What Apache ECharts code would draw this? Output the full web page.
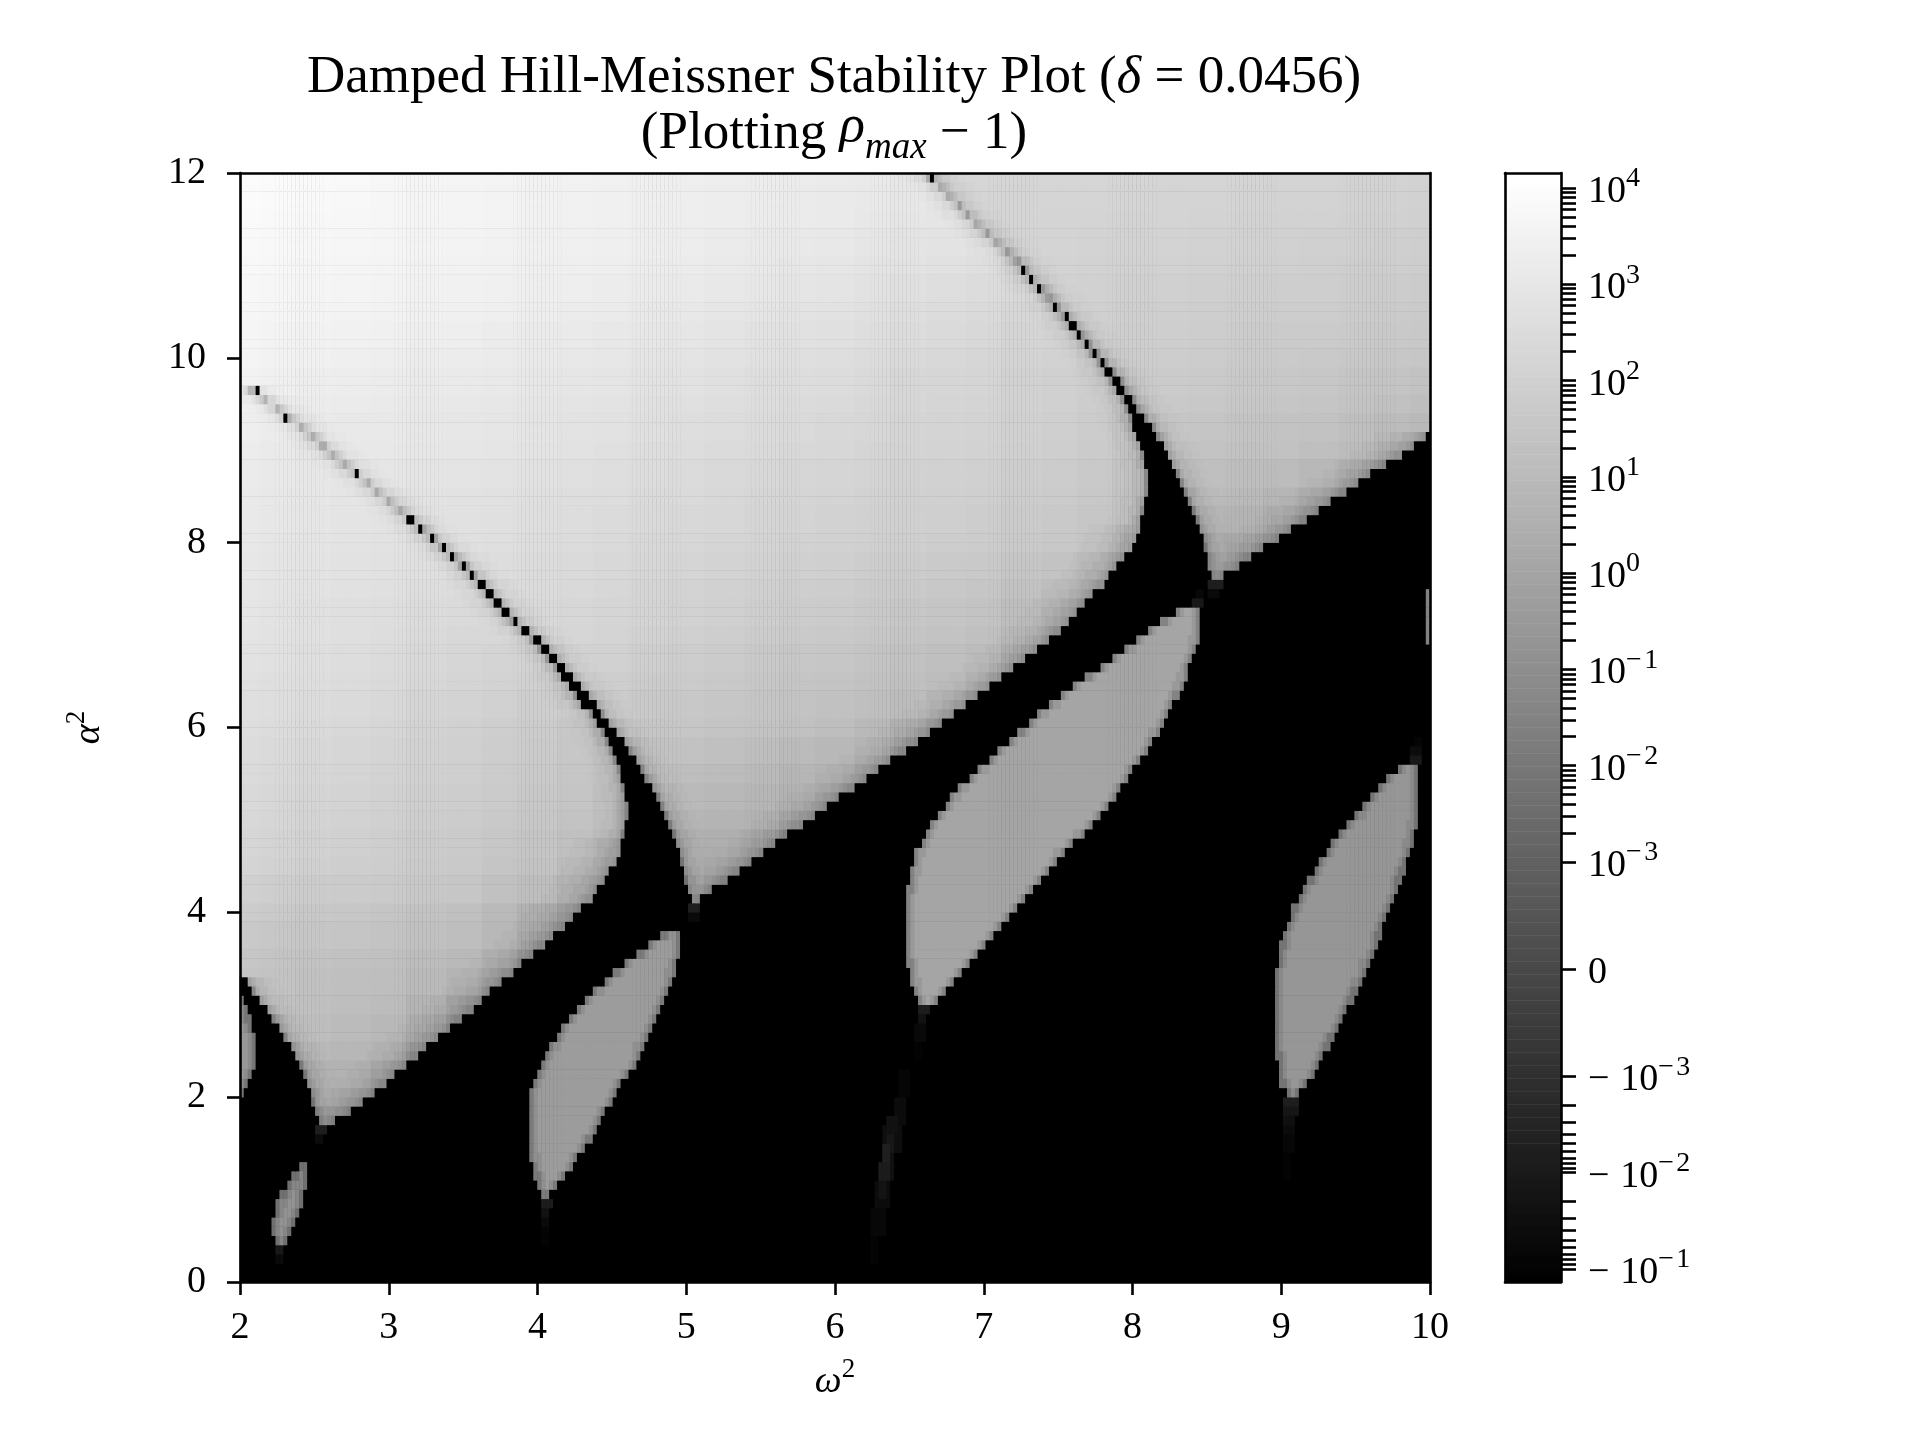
<!DOCTYPE html>
<html><head><meta charset="utf-8">
<style>html,body{margin:0;padding:0;background:#fff}#c{width:1920px;height:1440px}</style>
<script src="https://cdn.jsdelivr.net/npm/echarts@6/dist/echarts.min.js"></script>
</head><body><div id="c"></div>
<script>
// Region outlines, row by row: [alpha^2, left omega^2, right omega^2]
const regionA=[[9.65,2,2.08],[9.55,2,2.17],[9.45,2,2.26],[9.35,2,2.34],[9.25,2,2.42],[9.15,2,2.49],[9.05,2,2.56],[8.95,2,2.63],[8.85,2,2.71],[8.75,2,2.78],[8.65,2,2.86],[8.55,2,2.93],[8.45,2,3.01],[8.35,2,3.08],[8.25,2,3.142],[8.15,2,3.212],[8.05,2,3.282],[7.95,2,3.352],[7.85,2,3.42],[7.75,2,3.49],[7.65,2,3.55],[7.55,2,3.61],[7.45,2,3.663],[7.35,2,3.718],[7.25,2,3.768],[7.15,2,3.828],[7.05,2,3.905],[6.95,2,3.97],[6.85,2,4.025],[6.75,2,4.075],[6.65,2,4.125],[6.55,2,4.17],[6.45,2,4.215],[6.35,2,4.26],[6.25,2,4.305],[6.15,2,4.37],[6.05,2,4.41],[5.95,2,4.445],[5.85,2,4.47],[5.75,2,4.50],[5.65,2,4.53],[5.55,2,4.555],[5.45,2,4.57],[5.35,2,4.58],[5.25,2,4.595],[5.15,2,4.60],[5.05,2,4.60],[4.95,2,4.595],[4.85,2,4.585],[4.75,2,4.57],[4.65,2,4.55],[4.55,2,4.525],[4.45,2,4.49],[4.35,2,4.45],[4.25,2,4.41],[4.15,2,4.36],[4.05,2,4.30],[3.95,2,4.24],[3.85,2,4.18],[3.75,2,4.11],[3.65,2,4.04],[3.55,2,3.97],[3.45,2,3.90],[3.35,2,3.83],[3.25,2.05,3.76],[3.15,2.085,3.69],[3.05,2.125,3.63],[2.95,2.175,3.56],[2.85,2.225,3.48],[2.75,2.26,3.41],[2.65,2.30,3.33],[2.55,2.335,3.26],[2.45,2.37,3.19],[2.35,2.40,3.12],[2.25,2.43,3.05],[2.15,2.45,2.975],[2.05,2.47,2.90],[1.95,2.485,2.82],[1.85,2.50,2.74],[1.75,2.525,2.65]];
const regionB=[[11.95,2,6.64],[11.85,2,6.71],[11.75,2,6.77],[11.65,2,6.83],[11.55,2,6.89],[11.45,2,6.955],[11.35,2,7.02],[11.25,2,7.09],[11.15,2,7.16],[11.05,2,7.215],[10.95,2,7.26],[10.85,2,7.31],[10.75,2,7.373],[10.65,2,7.428],[10.55,2,7.478],[10.45,2,7.536],[10.35,2,7.586],[10.25,2,7.635],[10.15,2,7.685],[10.05,2,7.733],[9.95,2,7.78],[9.85,2,7.825],[9.75,2.0,7.86],[9.65,2.08,7.90],[9.55,2.17,7.945],[9.45,2.26,7.97],[9.35,2.34,7.99],[9.25,2.42,8.01],[9.15,2.49,8.035],[9.05,2.56,8.06],[8.95,2.63,8.075],[8.85,2.71,8.09],[8.75,2.78,8.10],[8.65,2.86,8.10],[8.55,2.93,8.10],[8.45,3.01,8.09],[8.35,3.08,8.08],[8.25,3.168,8.065],[8.15,3.238,8.05],[8.05,3.308,8.02],[7.95,3.378,7.99],[7.85,3.45,7.94],[7.75,3.52,7.905],[7.65,3.58,7.85],[7.55,3.64,7.80],[7.45,3.697,7.74],[7.35,3.752,7.68],[7.25,3.802,7.63],[7.15,3.862,7.57],[7.05,3.945,7.51],[6.95,4.02,7.44],[6.85,4.075,7.36],[6.75,4.125,7.28],[6.65,4.175,7.20],[6.55,4.23,7.11],[6.45,4.285,7.03],[6.35,4.34,6.95],[6.25,4.395,6.87],[6.15,4.43,6.79],[6.05,4.475,6.72],[5.95,4.525,6.63],[5.85,4.58,6.55],[5.75,4.625,6.47],[5.65,4.665,6.38],[5.55,4.695,6.29],[5.45,4.73,6.21],[5.35,4.765,6.12],[5.25,4.80,6.03],[5.15,4.83,5.95],[5.05,4.855,5.86],[4.95,4.885,5.78],[4.85,4.91,5.69],[4.75,4.93,5.61],[4.65,4.95,5.52],[4.55,4.965,5.44],[4.45,4.98,5.35],[4.35,4.995,5.27],[4.25,5.01,5.18],[4.15,5.03,5.09]];
const regionC=[[11.95,6.66,10],[11.85,6.71,10],[11.75,6.77,10],[11.65,6.83,10],[11.55,6.89,10],[11.45,6.955,10],[11.35,7.02,10],[11.25,7.09,10],[11.15,7.16,10],[11.05,7.235,10],[10.95,7.28,10],[10.85,7.33,10],[10.75,7.397,10],[10.65,7.452,10],[10.55,7.502,10],[10.45,7.564,10],[10.35,7.614,10],[10.25,7.665,10],[10.15,7.715,10],[10.05,7.767,10],[9.95,7.82,10],[9.85,7.875,10],[9.75,7.92,10],[9.65,7.96,10],[9.55,8.00,10],[9.45,8.04,10],[9.35,8.09,10],[9.25,8.135,10],[9.15,8.17,9.98],[9.05,8.205,9.89],[8.95,8.235,9.80],[8.85,8.265,9.71],[8.75,8.295,9.61],[8.65,8.325,9.52],[8.55,8.355,9.43],[8.45,8.38,9.34],[8.35,8.405,9.25],[8.25,8.43,9.16],[8.15,8.45,9.07],[8.05,8.47,8.99],[7.95,8.48,8.89],[7.85,8.495,8.79],[7.75,8.505,8.72],[7.65,8.525,8.62]];
const regionD=[[7.25,8.29,8.46],[7.15,8.20,8.46],[7.05,8.11,8.455],[6.95,8.03,8.445],[6.85,7.955,8.43],[6.75,7.87,8.41],[6.65,7.78,8.385],[6.55,7.69,8.365],[6.45,7.60,8.34],[6.35,7.52,8.31],[6.25,7.45,8.28],[6.15,7.37,8.25],[6.05,7.30,8.215],[5.95,7.24,8.18],[5.85,7.17,8.14],[5.75,7.10,8.10],[5.65,7.03,8.05],[5.55,6.97,8.01],[5.45,6.90,7.97],[5.35,6.835,7.93],[5.25,6.78,7.89],[5.15,6.735,7.85],[5.05,6.69,7.79],[4.95,6.645,7.73],[4.85,6.61,7.67],[4.75,6.575,7.60],[4.65,6.54,7.54],[4.55,6.53,7.49],[4.45,6.515,7.44],[4.35,6.50,7.39],[4.25,6.49,7.34],[4.15,6.48,7.29],[4.05,6.475,7.23],[3.95,6.475,7.18],[3.85,6.475,7.12],[3.75,6.475,7.07],[3.65,6.475,7.01],[3.55,6.48,6.955],[3.45,6.49,6.90],[3.35,6.50,6.85],[3.25,6.515,6.80],[3.15,6.53,6.75],[3.05,6.56,6.70]];
const regionE=[[3.75,4.84,4.97],[3.65,4.75,4.965],[3.55,4.68,4.96],[3.45,4.59,4.94],[3.35,4.52,4.925],[3.25,4.45,4.90],[3.15,4.38,4.875],[3.05,4.315,4.855],[2.95,4.26,4.83],[2.85,4.21,4.80],[2.75,4.165,4.77],[2.65,4.13,4.74],[2.55,4.09,4.71],[2.45,4.05,4.69],[2.35,4.02,4.66],[2.25,3.99,4.615],[2.15,3.965,4.57],[2.05,3.95,4.535],[1.95,3.94,4.50],[1.85,3.935,4.465],[1.75,3.935,4.43],[1.65,3.935,4.395],[1.55,3.935,4.36],[1.45,3.94,4.32],[1.35,3.955,4.27],[1.25,3.97,4.235],[1.15,3.985,4.19],[1.05,4.005,4.14],[0.95,4.04,4.09]];
const regionF=[[5.55,9.78,9.92],[5.45,9.70,9.93],[5.35,9.65,9.93],[5.25,9.60,9.93],[5.15,9.55,9.93],[5.05,9.50,9.92],[4.95,9.43,9.91],[4.85,9.385,9.90],[4.75,9.34,9.885],[4.65,9.30,9.87],[4.55,9.26,9.85],[4.45,9.22,9.83],[4.35,9.185,9.80],[4.25,9.15,9.78],[4.15,9.11,9.76],[4.05,9.08,9.74],[3.95,9.06,9.71],[3.85,9.04,9.69],[3.75,9.02,9.67],[3.65,9.00,9.65],[3.55,8.99,9.62],[3.45,8.98,9.59],[3.35,8.965,9.57],[3.25,8.96,9.54],[3.15,8.96,9.51],[3.05,8.96,9.48],[2.95,8.96,9.45],[2.85,8.96,9.42],[2.75,8.96,9.38],[2.65,8.96,9.35],[2.55,8.965,9.32],[2.45,8.97,9.28],[2.35,8.975,9.26],[2.25,8.98,9.22],[2.15,9.00,9.17],[2.05,9.03,9.13]];
const regionG=[[1.25,2.41,2.46],[1.15,2.36,2.46],[1.05,2.32,2.445],[0.95,2.28,2.43],[0.85,2.25,2.42],[0.75,2.23,2.395],[0.65,2.22,2.375],[0.55,2.22,2.35],[0.45,2.23,2.33]];
const regionH=[[3.05,2,2.03],[2.95,2,2.05],[2.85,2,2.07],[2.75,2,2.09],[2.65,2,2.10],[2.55,2,2.10],[2.45,2,2.10],[2.35,2,2.10],[2.25,2,2.08],[2.15,2,2.06],[2.05,2,2.03]];
// Grey read from regions A and B: rows are alpha^2 from 12 down by 0.25, columns omega^2 from 2 by 0.25
const shadeAB=[
[252,251,250,249,247,246,245,244,243,242,241,240,239,238,237,236,235,234,232,231,230,229,228,226,225,224],
[251,250,249,248,246,245,244,243,242,241,240,239,238,237,236,235,234,233,231,230,228,227,226,225,224,223],
[250,249,248,247,246,245,244,243,242,241,240,239,238,237,236,235,234,232,230,229,227,226,224,223,222,221],
[249,248,247,246,245,244,243,242,241,240,239,238,237,235,234,233,232,230,228,227,225,224,222,220,219,218],
[248,247,246,245,244,243,242,241,240,239,238,237,236,234,233,231,230,228,227,225,223,221,219,217,215,214],
[247,246,245,244,243,242,241,240,239,238,236,235,234,232,231,229,228,226,224,222,220,218,216,214,212,211],
[246,245,244,243,242,241,240,239,238,236,235,233,232,230,229,227,226,224,222,220,218,215,213,211,209,208],
[245,243,242,241,240,239,238,236,235,234,232,231,230,228,226,225,224,222,220,218,216,213,211,209,207,205],
[244,242,241,239,238,237,236,235,234,232,231,229,228,226,225,223,222,220,218,216,214,212,210,208,205,203],
[242,240,238,237,236,235,234,233,232,230,229,227,226,224,222,221,220,218,215,214,213,210,208,206,204,202],
[240,238,236,235,234,233,232,231,230,228,227,225,224,222,221,219,218,216,215,213,212,210,208,205,203,200],
[238,236,234,233,233,232,231,230,229,227,226,224,222,221,219,218,216,215,213,212,211,209,207,204,201,198],
[236,234,232,232,232,231,230,229,228,226,224,222,221,219,218,216,215,213,212,211,210,208,206,203,200,197],
[235,233,231,230,230,229,228,227,226,224,222,221,219,217,216,214,213,212,210,209,208,206,204,201,198,195],
[234,232,231,229,228,227,226,225,224,222,221,219,218,216,214,213,212,210,209,208,207,205,203,200,197,194],
[233,231,230,228,227,226,225,224,223,221,219,218,216,215,213,212,210,209,208,207,205,203,201,198,196,193],
[232,230,229,227,226,225,224,223,222,220,218,216,215,213,212,210,209,208,207,205,204,202,200,197,195,192],
[231,229,228,226,225,224,222,221,220,218,216,215,213,211,210,208,207,205,204,202,201,198,195,190,185,180],
[230,228,227,225,224,222,220,219,219,217,215,213,211,209,208,206,205,203,202,200,198,194,190,185,180,176],
[229,227,225,223,222,220,218,217,217,215,213,212,210,208,206,204,203,201,199,197,195,190,185,180,175,172],
[228,226,225,223,221,219,216,216,216,214,212,210,208,206,204,202,201,199,197,195,192,186,180,175,172,170],
[226,225,223,221,219,217,214,212,212,210,209,207,205,203,201,199,198,196,194,191,188,182,176,172,170],
[225,223,222,220,218,216,213,211,209,208,206,204,203,201,199,197,196,194,192,189,186,180,175,170],
[223,222,220,218,216,213,211,209,206,204,203,201,200,198,197,195,193,191,188,184,180,175,170],
[222,220,218,216,214,211,209,206,204,200,197,198,198,196,195,193,190,185,180,176,172,170],
[220,218,216,214,212,210,208,205,203,199,196,194,194,192,190,187,184,180,175,172,170],
[219,217,215,213,211,209,207,204,202,198,195,192,190,188,186,182,179,175,170],
[217,215,213,211,209,207,205,203,200,197,193,188,186,184,182,178,174,170],
[216,214,212,210,208,206,204,201,199,195,192,186,182,180,178,173,168,165],
[214,212,210,208,206,204,202,199,197,192,188,181,178,175,172,168,165],
[212,210,208,206,205,203,201,197,195,188,185,178,176,172,170,165],
[208,206,204,203,202,200,198,193,190,183,180,175,172,168,165],
[204,202,200,199,197,195,192,186,178,174,172,170,168,165],
[201,199,198,197,195,193,190,184,176,170],
[198,196,195,193,192,189,185,178,170],
[196,195,193,191,190,186,180,172],
[195,194,192,190,188,180,170,165],
[190,190,190,187,184,176,168],
[185,185,185,183,180,172,165],
[180,180,180,178,174,168],
[172,174,176,172,168,165],
[165]];
// Grey read from region C: rows are alpha^2 from 12 down by 0.25, columns omega^2 from 6.5 by 0.25
const shadeC=[
[214,214,214,214,214,214,214,213,213,213,212,212,211,211,210],
[213,213,213,213,213,213,213,212,212,212,211,211,210,210,209],
[213,213,213,213,212,212,212,212,211,211,210,210,209,209,208],
[212,212,212,212,212,211,211,211,210,210,209,208,208,207,206],
[212,212,212,212,211,210,210,210,209,209,208,207,206,206,205],
[211,211,211,211,210,209,208,208,207,207,206,206,205,204,203],
[210,210,210,210,209,208,207,207,206,206,205,205,204,203,202],
[209,209,209,209,208,207,206,206,205,204,203,203,202,201,200],
[208,208,208,208,207,206,205,205,204,203,202,201,200,199,198],
[206,206,206,206,205,204,203,203,202,201,200,199,197,196,194],
[204,204,204,204,204,203,201,201,200,199,198,197,195,193,190],
[202,202,202,202,202,201,199,198,197,196,195,194,191,188,185],
[200,200,200,200,200,199,197,196,195,194,194,191,188,184,180],
[197,197,197,197,197,196,194,193,191,190,188,184,178,172,170],
[194,194,194,194,194,193,192,190,188,186,182,176,172,170],
[190,190,190,190,190,190,188,186,183,180,175,170],
[185,185,185,185,185,185,183,180,176,172,170],
[178,178,178,178,178,178,176,173,170]];
const lensShades=[[regionD,165],[regionE,156],[regionF,150],[regionG,146],[regionH,152]];
// Darkening read next to region borders: [omega^2 distance, grey lost]
const brightEdge=[[0.014,60],[0.03,36],[0.06,24],[0.10,13],[0.16,6],[0.22,2]];
const lowerEdge=[[0.03,38],[0.06,30],[0.10,23],[0.16,16],[0.24,9],[0.34,4]];
const lensEdge=[[0.03,34],[0.06,12]];
// alpha^2 below which the right border of a region is its sloping lower edge
const lowerEdgeBelow={A:4.8,B:8.2,C:99};
// Faint marks in the black area: [omega left, omega right, alpha top, alpha bottom, grey]
const faintPatches=[
[6.42,6.50,2.3,2.0,6],[6.39,6.48,2.0,1.7,12],[6.33,6.45,1.7,1.4,14],[6.31,6.41,1.4,1.1,16],[6.27,6.38,1.1,0.8,12],[6.25,6.34,0.8,0.5,8],[6.25,6.30,0.5,0.25,4],
[6.36,6.43,1.8,1.6,18],[6.35,6.40,1.6,1.45,24],[6.33,6.37,1.5,1.3,32],[6.30,6.36,1.3,1.1,28],[6.29,6.34,1.1,0.9,20],
[9.02,9.12,2.0,1.9,30],[9.02,9.11,1.9,1.8,22],[9.02,9.10,1.8,1.7,16],[9.02,9.09,1.7,1.6,11],[9.02,9.08,1.6,1.4,7],[9.02,9.07,1.4,1.1,3],
[4.02,4.10,0.9,0.8,28],[4.02,4.09,0.8,0.7,18],[4.02,4.08,0.7,0.6,10],[4.02,4.07,0.6,0.45,4],
[2.25,2.30,0.4,0.3,24],[2.25,2.29,0.3,0.2,10],
[6.56,6.64,3.0,2.9,28],[6.55,6.62,2.9,2.8,18],[6.54,6.60,2.8,2.6,9],[6.53,6.58,2.6,2.4,3],
[9.86,9.95,5.7,5.6,24],[9.87,9.95,5.8,5.7,12],[9.88,9.95,5.9,5.8,5],
[8.40,8.47,7.4,7.3,24],[8.42,8.47,7.5,7.4,8],[2.52,2.58,1.7,1.6,30],[2.52,2.57,1.6,1.5,12],
[5.02,5.10,4.1,4.0,30],[5.02,5.08,4.0,3.9,10],[8.52,8.60,7.6,7.5,30],[8.52,8.58,7.5,7.4,10],
[9.97,10,7.45,6.95,130]];
// Isolated black cells on the thin gray ridges: [omega^2, alpha^2]
const blackDots=[[2.11,9.65],[2.31,9.35],[2.785,8.75],[3.13,8.25],[3.20,8.15],[6.65,11.95]];
const xTicks=[2,3,4,5,6,7,8,9,10];
const yTicks=[0,2,4,6,8,10,12];
const colorbarMajor=[1e4,1e3,1e2,1e1,1,0.1,0.01,0.001,0,-0.001,-0.01,-0.1];
const colorbarLabels=['10^4','10^3','10^2','10^1','10^0','10^−\u200a1','10^−\u200a2','10^−\u200a3','0','−\u2009\u200a10^−\u200a3','−\u2009\u200a10^−\u200a2','−\u2009\u200a10^−\u200a1'];
const minorMultiples=[2,3,4,5,6,7,8,9];
const barMin=-3.248, barMax=8.268;

const font='"Liberation Serif",serif';
const symlog=v=>v===0?0:Math.sign(v)*(Math.log10(Math.abs(v)/1e-3)+1.113);
const shadeToPos=g=>barMin+g/255*(barMax-barMin);
const nCols=300,nRows=120;
const omegaAt=j=>2+(j+.5)*8/nCols;
const alphaAt=i=>.05+.1*i;
const shades=Array.from({length:nRows},()=>new Float32Array(nCols));
const edgeLoss=(d,edge)=>{for(const [dist,loss] of edge){if(d<dist)return loss;}return 0;};
function stamp(rows,shadeAt,edge,lowerBelow){
  rows.forEach(([a,l,r])=>{
    const i=Math.round((a-.05)/.1);
    for(let j=0;j<nCols;j++){
      const w=omegaAt(j);
      if(w<l||w>r)continue;
      const lossL=l<=2?0:edgeLoss(w-l,edge);
      const lossR=r>=10?0:edgeLoss(r-w,a<lowerBelow?lowerEdge:edge);
      shades[i][j]=shadeAt(w,a)-Math.max(lossL,lossR);
    }
  });
}
function lookup(tbl,w,a,w0){
  const row=tbl[Math.min(tbl.length-1,Math.max(0,Math.round((12-a)/.25)))];
  return row[Math.min(row.length-1,Math.max(0,Math.round((w-w0)/.25)))];
}
stamp(regionA,(w,a)=>lookup(shadeAB,w,a,2),brightEdge,lowerEdgeBelow.A);
stamp(regionB,(w,a)=>lookup(shadeAB,w,a,2),brightEdge,lowerEdgeBelow.B);
stamp(regionC,(w,a)=>lookup(shadeC,w,a,6.5),brightEdge,lowerEdgeBelow.C);
lensShades.forEach(([r,s])=>stamp(r,()=>s,lensEdge,-1));
faintPatches.forEach(([l,r,t,b,g])=>{
  for(let i=0;i<nRows;i++){const a=alphaAt(i);if(a>t||a<b)continue;
    for(let j=0;j<nCols;j++){const w=omegaAt(j);if(w>=l&&w<=r)shades[i][j]=Math.max(shades[i][j],g);}}
});
blackDots.forEach(([w,a])=>{
  shades[Math.round((a-.05)/.1)][Math.min(nCols-1,Math.floor((w-2)/8*nCols))]=0;
});
const cells=[];
for(let i=0;i<nRows;i++)for(let j=0;j<nCols;j++)cells.push([j,i,shadeToPos(shades[i][j])]);
const barCells=[];
for(let i=0;i<256;i++)barCells.push([0,i,shadeToPos(i+.5)]);

const major=colorbarMajor.map(symlog);
const minor=[];
colorbarMajor.forEach(v=>{
  if(v===0)return;
  const a=Math.abs(v);
  if((v>0&&a>=1e4)||(v<0&&a>=.1))return;
  minorMultiples.forEach(m=>minor.push(symlog(Math.sign(v)*a*m)));
});
function richLabel(s){
  if(s.indexOf('^')<0)return '{n|'+s+'}';
  const p=s.split('^');return '{n|'+p[0]+'}{s|'+p[1]+'}';
}
const labelStyle={color:'#000',fontFamily:font,fontSize:38,padding:[8,0,0,0],
  rich:{n:{fontFamily:font,fontSize:38,lineHeight:54,color:'#000'},
        s:{fontFamily:font,fontSize:28,lineHeight:30,color:'#000',verticalAlign:'top'}}};
const lineS={lineStyle:{color:'#000',width:2.6}};
const hiddenCat=(n,extra)=>Object.assign({type:'category',data:Array.from({length:n},(_,k)=>k),show:false,gridIndex:0,boundaryGap:true},extra||{});
const nameRich={i:{fontFamily:font,fontStyle:'italic',fontSize:38,lineHeight:52,color:'#000'},s:{fontFamily:font,fontSize:27,lineHeight:28,verticalAlign:'top',color:'#000'}};

const option={
  animation:false,backgroundColor:'#fff',
  title:[
    {text:'Damped Hill-Meissner Stability Plot ({i|δ} = 0.0456)',left:829,top:47,textAlign:'center',
     textStyle:{fontFamily:font,fontWeight:'normal',fontSize:53,color:'#000',rich:{i:{fontFamily:font,fontStyle:'italic',fontSize:53,color:'#000'}}}},
    {text:'(Plotting {i|ρ}{u|max} − 1)',left:829,top:96,textAlign:'center',
     textStyle:{fontFamily:font,fontWeight:'normal',fontSize:53,color:'#000',lineHeight:66,
       rich:{i:{fontFamily:font,fontStyle:'italic',fontSize:53,lineHeight:66,color:'#000',verticalAlign:'top'},
             u:{fontFamily:font,fontStyle:'italic',fontSize:37,lineHeight:38,color:'#000',verticalAlign:'bottom'}}}}
  ],
  grid:[{left:240,top:173,width:1190,height:1109,show:true,backgroundColor:'#000',borderWidth:0},{left:1505,top:173,width:56,height:1109}],
  visualMap:{show:false,type:'continuous',min:barMin,max:barMax,dimension:2,seriesIndex:[0,1],inRange:{color:['#000000','#ffffff']}},
  xAxis:[
    hiddenCat(nCols),
    {type:'value',gridIndex:0,min:2,max:10,interval:1,position:'bottom',z:10,splitLine:{show:false},
     axisLine:Object.assign({show:true,onZero:false},lineS),axisTick:Object.assign({show:true,length:13,inside:false},lineS),
     axisLabel:{color:'#000',fontFamily:font,fontSize:38,margin:27,showMinLabel:true,showMaxLabel:true,hideOverlap:false,customValues:xTicks},
     name:'{i|ω}{s|2}',nameLocation:'middle',nameGap:74,nameTextStyle:{rich:nameRich}},
    {type:'value',gridIndex:0,min:2,max:10,position:'top',z:10,splitLine:{show:false},axisLine:Object.assign({show:true,onZero:false},lineS),axisTick:{show:false},axisLabel:{show:false}},
    hiddenCat(1,{gridIndex:1}),
    {type:'value',gridIndex:1,min:0,max:1,position:'bottom',z:10,splitLine:{show:false},axisLine:Object.assign({show:true,onZero:false},lineS),axisTick:{show:false},axisLabel:{show:false}},
    {type:'value',gridIndex:1,min:0,max:1,position:'top',z:10,splitLine:{show:false},axisLine:Object.assign({show:true,onZero:false},lineS),axisTick:{show:false},axisLabel:{show:false}}
  ],
  yAxis:[
    hiddenCat(nRows),
    {type:'value',gridIndex:0,min:0,max:12,interval:2,position:'left',z:10,splitLine:{show:false},
     axisLine:Object.assign({show:true,onZero:false},lineS),axisTick:Object.assign({show:true,length:13},lineS),
     axisLabel:{color:'#000',fontFamily:font,fontSize:38,margin:34,showMinLabel:true,showMaxLabel:true,hideOverlap:false,customValues:yTicks},
     name:'{i|α}{s|2}',nameLocation:'middle',nameGap:125,nameTextStyle:{rich:nameRich}},
    {type:'value',gridIndex:0,min:0,max:12,position:'right',z:10,splitLine:{show:false},axisLine:Object.assign({show:true,onZero:false},lineS),axisTick:{show:false},axisLabel:{show:false}},
    hiddenCat(256,{gridIndex:1}),
    {type:'value',gridIndex:1,min:barMin,max:barMax,position:'right',z:10,splitLine:{show:false},
     axisLine:Object.assign({show:true,onZero:false},lineS),
     axisTick:Object.assign({show:true,length:15,customValues:major.concat(minor)},lineS),
     axisLabel:Object.assign({show:true,margin:27,hideOverlap:false,showMinLabel:true,showMaxLabel:true,customValues:major,
       formatter:v=>{const k=major.findIndex(m=>Math.abs(m-v)<1e-6);return k<0?'':richLabel(colorbarLabels[k]);}},labelStyle)},
    {type:'value',gridIndex:1,min:barMin,max:barMax,position:'left',z:10,splitLine:{show:false},axisLine:Object.assign({show:true,onZero:false},lineS),axisTick:{show:false},axisLabel:{show:false}}
  ],
  series:[
    {type:'heatmap',xAxisIndex:0,yAxisIndex:0,data:cells,progressive:0,animation:false,silent:true,itemStyle:{borderWidth:0},emphasis:{disabled:true}},
    {type:'heatmap',xAxisIndex:3,yAxisIndex:3,data:barCells,progressive:0,animation:false,silent:true,itemStyle:{borderWidth:0},emphasis:{disabled:true}}
  ]
};
const chart=echarts.init(document.getElementById('c'),null,{renderer:'canvas',width:1920,height:1440});
chart.setOption(option);
</script></body></html>
